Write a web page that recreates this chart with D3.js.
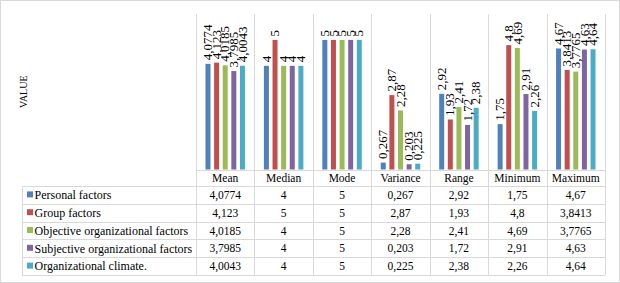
<!DOCTYPE html>
<html>
<head>
<meta charset="utf-8">
<script src="https://cdn.jsdelivr.net/npm/d3@7"></script>
<style>
	body { margin: 0; background: #fff; }
	svg { display: block; }
</style>
</head>
<body>
<svg width="620" height="283"></svg>
<script>
let categories = ["Mean", "Median", "Mode", "Variance", "Range", "Minimum", "Maximum"];
let seriesNames = ["Personal factors", "Group factors", "Objective organizational factors", "Subjective organizational factors", "Organizational climate."];
let colors = ["#4f81bd", "#c0504d", "#9bbb59", "#8064a2", "#4bacc6"];

// values per series, in category order
let personal = [4.0774, 4, 5, 0.267, 2.92, 1.75, 4.67];
let group = [4.123, 5, 5, 2.87, 1.93, 4.8, 3.8413];
let objective = [4.0185, 4, 5, 2.28, 2.41, 4.69, 3.7765];
let subjective = [3.7985, 4, 5, 0.203, 1.72, 2.91, 4.63];
let climate = [4.0043, 4, 5, 0.225, 2.38, 2.26, 4.64];

// labels as printed (comma decimals)
let personalLabels = ["4,0774", "4", "5", "0,267", "2,92", "1,75", "4,67"];
let groupLabels = ["4,123", "5", "5", "2,87", "1,93", "4,8", "3,8413"];
let objectiveLabels = ["4,0185", "4", "5", "2,28", "2,41", "4,69", "3,7765"];
let subjectiveLabels = ["3,7985", "4", "5", "0,203", "1,72", "2,91", "4,63"];
let climateLabels = ["4,0043", "4", "5", "0,225", "2,38", "2,26", "4,64"];

let yTicks = [0, 1, 2, 3, 4, 5, 6];

let series = [personal, group, objective, subjective, climate];
let labels = [personalLabels, groupLabels, objectiveLabels, subjectiveLabels, climateLabels];

let data = [];
categories.forEach((c, ci) => {
	series.forEach((s, si) => {
		data.push({cat: c, name: seriesNames[si], value: s[ci], label: labels[si][ci], color: colors[si]});
	});
});

let font = "'Liberation Serif', 'Times New Roman', serif";
let svg = d3.select("svg");
let width = 620, height = 283;
let margin = {top: 14, left: 196, right: 15, bottom: 113.5};
let tableLeft = 22;
let headerH = 16.5, rowH = 17.8;
let grid = "#d9d9d9";

let x0 = d3.scaleBand()
	.domain(categories)
	.range([margin.left, width - margin.right]);

let x1 = d3.scaleBand()
	.domain(seriesNames)
	.range([0, x0.bandwidth()])
	.paddingInner(0.42)
	.paddingOuter(1.1);

let y = d3.scaleLinear()
	.domain([0, d3.max(yTicks)])
	.range([height - margin.bottom, margin.top]);

let baseY = y(0);
let tableBottom = baseY + headerH + rowH * seriesNames.length;

// outer frame
svg.append("rect")
	.attr("x", 0.5).attr("y", 0.5)
	.attr("width", width - 1).attr("height", height - 1)
	.attr("fill", "none")
	.attr("stroke", grid);

// vertical grid / table column lines
let bounds = categories.map(c => x0(c)).concat([x0.range()[1]]);
svg.append("g")
	.selectAll("line").data(bounds).enter().append("line")
	.attr("x1", d => Math.round(d) + 0.5)
	.attr("x2", d => Math.round(d) + 0.5)
	.attr("y1", margin.top)
	.attr("y2", tableBottom)
	.attr("stroke", grid);

// horizontal table lines
let rowLines = d3.range(seriesNames.length + 1).map(i => baseY + headerH + i * rowH);
svg.append("line")
	.attr("x1", margin.left).attr("x2", x0.range()[1])
	.attr("y1", Math.round(baseY) + 0.5).attr("y2", Math.round(baseY) + 0.5)
	.attr("stroke", grid);
svg.append("g")
	.selectAll("line").data(rowLines).enter().append("line")
	.attr("x1", tableLeft)
	.attr("x2", x0.range()[1])
	.attr("y1", d => Math.round(d) + 0.5)
	.attr("y2", d => Math.round(d) + 0.5)
	.attr("stroke", grid);
svg.append("line")
	.attr("x1", tableLeft + 0.5).attr("x2", tableLeft + 0.5)
	.attr("y1", rowLines[0]).attr("y2", tableBottom)
	.attr("stroke", grid);

// bars
let bars = svg.append("g");
bars.selectAll("rect").data(data).enter().append("rect")
	.attr("x", d => x0(d.cat) + x1(d.name))
	.attr("y", d => y(d.value))
	.attr("width", x1.bandwidth())
	.attr("height", d => y(0) - y(d.value))
	.attr("fill", d => d.color);

// data labels
bars.selectAll("text").data(data).enter().append("text")
	.attr("transform", d => `translate(${x0(d.cat) + x1(d.name) + x1.bandwidth() / 2},${y(d.value) - 3.5}) rotate(-90)`)
	.attr("dy", "0.32em")
	.style("font-family", font)
	.style("font-size", "13px")
	.attr("fill", "#000")
	.text(d => d.label);

// axis title
svg.append("text")
	.attr("transform", `translate(23,${(margin.top + baseY) / 2}) rotate(-90)`)
	.attr("text-anchor", "middle")
	.attr("dy", "0.35em")
	.style("font-family", font)
	.style("font-size", "10px")
	.text("VALUE");

// table header (category names)
svg.append("g")
	.selectAll("text").data(categories).enter().append("text")
	.attr("x", d => x0(d) + x0.bandwidth() / 2)
	.attr("y", baseY + headerH / 2)
	.attr("dy", "0.35em")
	.attr("text-anchor", "middle")
	.style("font-family", font)
	.style("font-size", "11.5px")
	.text(d => d);

// table rows
let rows = svg.append("g")
	.selectAll("g").data(seriesNames).enter().append("g")
	.attr("transform", (d, i) => `translate(0,${rowLines[i] + rowH / 2})`);

rows.append("rect")
	.attr("x", 27).attr("y", -3.5)
	.attr("width", 6).attr("height", 6)
	.attr("fill", (d, i) => colors[i]);

rows.append("text")
	.attr("x", 34.5)
	.attr("dy", "0.35em")
	.style("font-family", font)
	.style("font-size", "12px")
	.text(d => d);

rows.selectAll("text.val")
	.data((d, i) => labels[i].map((l, ci) => ({cat: categories[ci], label: l})))
	.enter().append("text")
	.attr("class", "val")
	.attr("x", d => x0(d.cat) + x0.bandwidth() / 2)
	.attr("dy", "0.35em")
	.attr("text-anchor", "middle")
	.style("font-family", font)
	.style("font-size", "11.5px")
	.text(d => d.label);
</script>
</body>
</html>
